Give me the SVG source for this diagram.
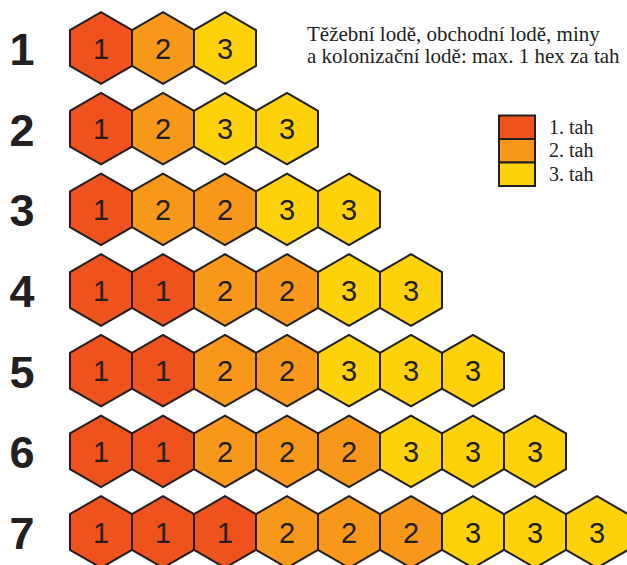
<svg xmlns="http://www.w3.org/2000/svg" xmlns:xlink="http://www.w3.org/1999/xlink" width="627" height="565" viewBox="0 0 627 565">
<style>
.h1{fill:#F0521E}.h2{fill:#F7981A}.h3{fill:#FDD20A}
.hx{stroke:#231F20;stroke-width:2;stroke-linejoin:miter}
.d{font-family:"Liberation Sans",Arial,sans-serif;font-size:29px;fill:#231F20;text-anchor:middle}
.r{font-family:"Liberation Sans",Arial,sans-serif;font-size:45px;font-weight:bold;fill:#231F20;text-anchor:middle}
.t{font-family:"Liberation Serif","Times New Roman",serif;font-size:21px;fill:#231F20}
.tl{font-family:"Liberation Serif","Times New Roman",serif;font-size:20px;fill:#231F20}
.lg{stroke:#231F20;stroke-width:2}
</style>
<defs>
<path id="hex" d="M0,-35.8 L31,-17.9 L31,17.9 L0,35.8 L-31,17.9 L-31,-17.9 Z"/>
</defs>
<rect width="627" height="565" fill="#fff"/>
<g id="connectors"></g>
<g id="labels">
<text class="r" x="22" y="65">1</text>
<text class="r" x="22" y="146">2</text>
<text class="r" x="22" y="226">3</text>
<text class="r" x="22" y="307">4</text>
<text class="r" x="22" y="388">5</text>
<text class="r" x="22" y="468">6</text>
<text class="r" x="22" y="549">7</text>
</g>
<g id="row1" transform="translate(0,48)">
<g id="r1h1"><use href="#hex" x="101" class="hx h1"/><text class="d" x="101" y="10.5">1</text></g>
<g id="r1h2"><use href="#hex" x="163" class="hx h2"/><text class="d" x="163" y="10.5">2</text></g>
<g id="r1h3"><use href="#hex" x="225" class="hx h3"/><text class="d" x="225" y="10.5">3</text></g>
</g>
<g id="row2" transform="translate(0,128.67)">
<g id="r2h1"><use href="#hex" x="101" class="hx h1"/><text class="d" x="101" y="10.5">1</text></g>
<g id="r2h2"><use href="#hex" x="163" class="hx h2"/><text class="d" x="163" y="10.5">2</text></g>
<g id="r2h3"><use href="#hex" x="225" class="hx h3"/><text class="d" x="225" y="10.5">3</text></g>
<g id="r2h4"><use href="#hex" x="287" class="hx h3"/><text class="d" x="287" y="10.5">3</text></g>
</g>
<g id="row3" transform="translate(0,209.33)">
<g id="r3h1"><use href="#hex" x="101" class="hx h1"/><text class="d" x="101" y="10.5">1</text></g>
<g id="r3h2"><use href="#hex" x="163" class="hx h2"/><text class="d" x="163" y="10.5">2</text></g>
<g id="r3h3"><use href="#hex" x="225" class="hx h2"/><text class="d" x="225" y="10.5">2</text></g>
<g id="r3h4"><use href="#hex" x="287" class="hx h3"/><text class="d" x="287" y="10.5">3</text></g>
<g id="r3h5"><use href="#hex" x="349" class="hx h3"/><text class="d" x="349" y="10.5">3</text></g>
</g>
<g id="row4" transform="translate(0,290)">
<g id="r4h1"><use href="#hex" x="101" class="hx h1"/><text class="d" x="101" y="10.5">1</text></g>
<g id="r4h2"><use href="#hex" x="163" class="hx h1"/><text class="d" x="163" y="10.5">1</text></g>
<g id="r4h3"><use href="#hex" x="225" class="hx h2"/><text class="d" x="225" y="10.5">2</text></g>
<g id="r4h4"><use href="#hex" x="287" class="hx h2"/><text class="d" x="287" y="10.5">2</text></g>
<g id="r4h5"><use href="#hex" x="349" class="hx h3"/><text class="d" x="349" y="10.5">3</text></g>
<g id="r4h6"><use href="#hex" x="411" class="hx h3"/><text class="d" x="411" y="10.5">3</text></g>
</g>
<g id="row5" transform="translate(0,370.67)">
<g id="r5h1"><use href="#hex" x="101" class="hx h1"/><text class="d" x="101" y="10.5">1</text></g>
<g id="r5h2"><use href="#hex" x="163" class="hx h1"/><text class="d" x="163" y="10.5">1</text></g>
<g id="r5h3"><use href="#hex" x="225" class="hx h2"/><text class="d" x="225" y="10.5">2</text></g>
<g id="r5h4"><use href="#hex" x="287" class="hx h2"/><text class="d" x="287" y="10.5">2</text></g>
<g id="r5h5"><use href="#hex" x="349" class="hx h3"/><text class="d" x="349" y="10.5">3</text></g>
<g id="r5h6"><use href="#hex" x="411" class="hx h3"/><text class="d" x="411" y="10.5">3</text></g>
<g id="r5h7"><use href="#hex" x="473" class="hx h3"/><text class="d" x="473" y="10.5">3</text></g>
</g>
<g id="row6" transform="translate(0,451.33)">
<g id="r6h1"><use href="#hex" x="101" class="hx h1"/><text class="d" x="101" y="10.5">1</text></g>
<g id="r6h2"><use href="#hex" x="163" class="hx h1"/><text class="d" x="163" y="10.5">1</text></g>
<g id="r6h3"><use href="#hex" x="225" class="hx h2"/><text class="d" x="225" y="10.5">2</text></g>
<g id="r6h4"><use href="#hex" x="287" class="hx h2"/><text class="d" x="287" y="10.5">2</text></g>
<g id="r6h5"><use href="#hex" x="349" class="hx h2"/><text class="d" x="349" y="10.5">2</text></g>
<g id="r6h6"><use href="#hex" x="411" class="hx h3"/><text class="d" x="411" y="10.5">3</text></g>
<g id="r6h7"><use href="#hex" x="473" class="hx h3"/><text class="d" x="473" y="10.5">3</text></g>
<g id="r6h8"><use href="#hex" x="535" class="hx h3"/><text class="d" x="535" y="10.5">3</text></g>
</g>
<g id="row7" transform="translate(0,532)">
<g id="r7h1"><use href="#hex" x="101" class="hx h1"/><text class="d" x="101" y="10.5">1</text></g>
<g id="r7h2"><use href="#hex" x="163" class="hx h1"/><text class="d" x="163" y="10.5">1</text></g>
<g id="r7h3"><use href="#hex" x="225" class="hx h1"/><text class="d" x="225" y="10.5">1</text></g>
<g id="r7h4"><use href="#hex" x="287" class="hx h2"/><text class="d" x="287" y="10.5">2</text></g>
<g id="r7h5"><use href="#hex" x="349" class="hx h2"/><text class="d" x="349" y="10.5">2</text></g>
<g id="r7h6"><use href="#hex" x="411" class="hx h2"/><text class="d" x="411" y="10.5">2</text></g>
<g id="r7h7"><use href="#hex" x="473" class="hx h3"/><text class="d" x="473" y="10.5">3</text></g>
<g id="r7h8"><use href="#hex" x="535" class="hx h3"/><text class="d" x="535" y="10.5">3</text></g>
<g id="r7h9"><use href="#hex" x="597" class="hx h3"/><text class="d" x="597" y="10.5">3</text></g>
</g>
<g id="note">
<text class="t" x="307" y="41">Těžební lodě, obchodní lodě, miny</text>
<text class="t" x="307" y="63">a kolonizační lodě: max. 1 hex za tah</text>
</g>
<g id="legend">
<rect class="lg h1" x="499" y="115.5" width="36" height="23.5"/>
<rect class="lg h2" x="499" y="139" width="36" height="23.5"/>
<rect class="lg h3" x="499" y="162.5" width="36" height="23.5"/>
<text class="tl" x="549" y="133.5">1. tah</text>
<text class="tl" x="549" y="157">2. tah</text>
<text class="tl" x="549" y="181">3. tah</text>
</g>
</svg>
